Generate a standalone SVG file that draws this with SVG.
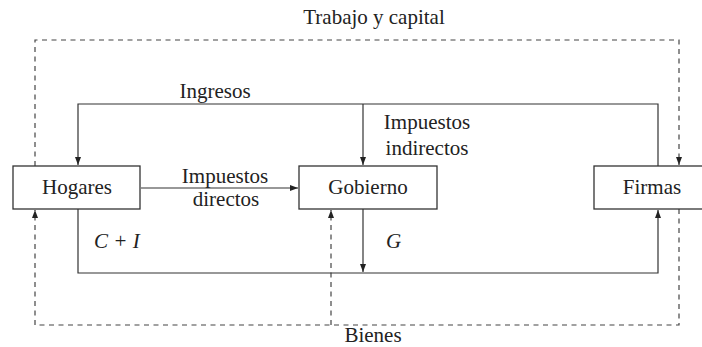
<svg xmlns="http://www.w3.org/2000/svg" width="702" height="347" viewBox="0 0 702 347">
<defs>
<style>
.box{fill:#fff;stroke:#333;stroke-width:1.3}
.ln{fill:none;stroke:#333;stroke-width:1.2}
.dash{fill:none;stroke:#444;stroke-width:1.2;stroke-dasharray:5 4.5}
text{font-family:"Liberation Serif","DejaVu Serif",serif;font-size:21px;fill:#222}
.c{text-anchor:middle}
.m{font-style:italic}
</style>
<marker id="ah" viewBox="0 0 8 6" refX="8" refY="3" markerWidth="8" markerHeight="6" markerUnits="userSpaceOnUse" orient="auto">
<path d="M0,0 L8,3 L0,6 Z" fill="#222"/>
</marker>
</defs>
<g id="connectors">
<path class="dash" d="M35,166 V40 H679 V165" marker-end="url(#ah)"/>
<path class="dash" d="M679,209 V325 H35 V210" marker-end="url(#ah)"/>
<path class="dash" d="M331,325 V210" marker-end="url(#ah)"/>
<path class="ln" d="M658,166 V104 H78 V165" marker-end="url(#ah)"/>
<path class="ln" d="M363,104 V165" marker-end="url(#ah)"/>
<path class="ln" d="M141,188 H298" marker-end="url(#ah)"/>
<path class="ln" d="M78,209 V273 H658 V210" marker-end="url(#ah)"/>
<path class="ln" d="M363,209 V272" marker-end="url(#ah)"/>
</g>
<g id="hogares">
<rect class="box" x="13" y="166" width="127" height="43"/>
<text class="c" x="77" y="194">Hogares</text>
</g>
<g id="gobierno">
<rect class="box" x="299" y="166" width="138" height="43"/>
<text class="c" x="368" y="194">Gobierno</text>
</g>
<g id="firmas">
<rect class="box" x="594" y="166" width="117" height="43"/>
<text class="c" x="652" y="194">Firmas</text>
</g>
<g id="labels">
<text class="c" x="374" y="24">Trabajo y capital</text>
<text class="c" x="215" y="98">Ingresos</text>
<text class="c" x="427" y="129">Impuestos</text>
<text class="c" x="427" y="155">indirectos</text>
<text class="c" x="225" y="183">Impuestos</text>
<text class="c" x="226" y="206">directos</text>
<text class="m" x="94" y="248">C + I</text>
<text class="m" x="386" y="248">G</text>
<text class="c" x="373" y="342">Bienes</text>
</g>
</svg>
